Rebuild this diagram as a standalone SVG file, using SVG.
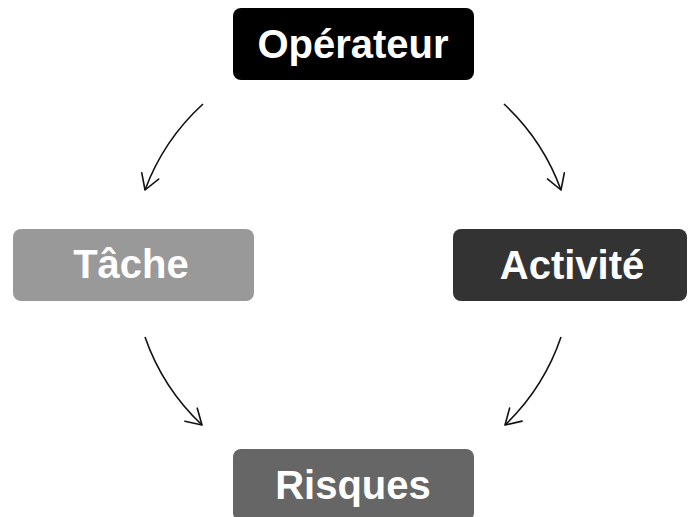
<svg xmlns="http://www.w3.org/2000/svg" width="688" height="517" viewBox="0 0 688 517">
<style>
.box text{font-family:"Liberation Sans",Arial,sans-serif;font-weight:bold;font-size:40px;fill:#fff;text-anchor:middle}
.conn path{fill:none;stroke:#111;stroke-width:1.6}
</style>
<defs>
<marker id="ah" markerUnits="userSpaceOnUse" markerWidth="40" markerHeight="40" refX="0" refY="0" viewBox="-20 -20 40 40" orient="auto" overflow="visible">
<path d="M-15,-9 L0,0 L-15,9" fill="none" stroke="#111" stroke-width="1.6" stroke-linecap="round" stroke-linejoin="round"/>
</marker>
</defs>
<rect width="688" height="517" fill="#fff"/>
<g id="operateur" class="box"><rect x="233" y="8" width="241" height="72" rx="8" fill="#000"/><text x="353" y="58">Opérateur</text></g>
<g id="tache" class="box"><rect x="13" y="229" width="241" height="72" rx="8" fill="#999"/><text x="131" y="278">Tâche</text></g>
<g id="activite" class="box"><rect x="453" y="229" width="234" height="72" rx="8" fill="#333"/><text x="572" y="279">Activité</text></g>
<g id="risques" class="box"><rect x="233" y="449" width="241" height="72" rx="8" fill="#666"/><text x="353" y="499">Risques</text></g>
<g id="connectors" class="conn">
<path d="M203,104 A220,220 0 0,0 145,190" marker-end="url(#ah)"/>
<path d="M504,104 A220,220 0 0,1 561,190" marker-end="url(#ah)"/>
<path d="M145,337 A220,220 0 0,0 202,425" marker-end="url(#ah)"/>
<path d="M561,337 A220,220 0 0,1 505,425" marker-end="url(#ah)"/>
</g>
</svg>
